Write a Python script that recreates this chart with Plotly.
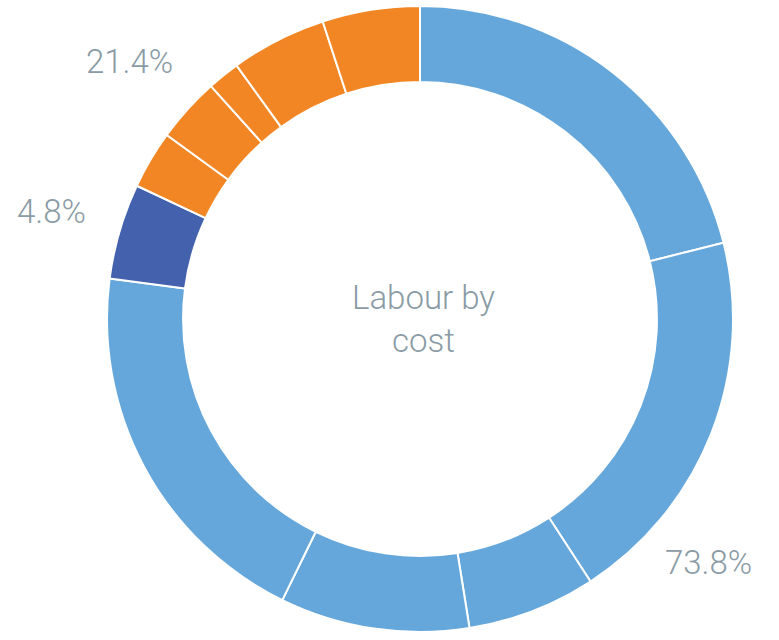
import plotly.graph_objects as go

# Slice shares in clockwise order starting at 12 o'clock
slice_names = [
    "Operatives", "Trades", "Supervisors", "Apprentices", "Labourers",
    "Management",
    "Plant hire", "Agency", "Overtime", "Travel", "Subsistence",
]
slice_values = [21.08, 19.75, 6.64, 9.78, 19.81, 4.94, 3.00, 3.36, 1.67, 4.94, 5.03]
slice_group = ["direct"] * 5 + ["management"] + ["other"] * 5

group_colors = {"direct": "#65A7DB", "management": "#4361AD", "other": "#F38624"}

# Group share labels
group_names = ["direct", "management", "other"]
group_shares = [73.8, 4.8, 21.4]

center_title = "Labour by<br>cost"
text_color = "#8A9BA6"
font_family = "Roboto"

W, H = 779, 640

fig = go.Figure(
    go.Pie(
        labels=slice_names,
        values=slice_values,
        sort=False,
        direction="clockwise",
        rotation=0,
        hole=0.757,
        textinfo="none",
        hoverinfo="label+percent",
        marker=dict(
            colors=[group_colors[g] for g in slice_group],
            line=dict(color="white", width=2),
        ),
        domain=dict(x=[107 / W, 733 / W], y=[8 / H, 634 / H]),
        showlegend=False,
    )
)

# Positions (paper coords) for each group's share label
label_pos = {
    "direct": (708 / W, 1 - 562 / H),
    "management": (51 / W, 1 - 211 / H),
    "other": (129 / W, 1 - 61 / H),
}

label_font = dict(family=font_family, size=33, color=text_color, weight=300)

annotations = [
    dict(
        text=center_title, x=423 / W, y=1 - 319 / H, xref="paper", yref="paper",
        showarrow=False, font=label_font,
        xanchor="center", yanchor="middle",
    )
]
for name, share in zip(group_names, group_shares):
    px, py = label_pos[name]
    annotations.append(
        dict(
            text=f"{share:.1f}%", x=px, y=py, xref="paper", yref="paper",
            showarrow=False, font=label_font,
            xanchor="center", yanchor="middle",
        )
    )

fig.update_layout(
    width=W, height=H,
    margin=dict(l=0, r=0, t=0, b=0),
    paper_bgcolor="white", plot_bgcolor="white",
    annotations=annotations,
)

fig.write_html("out.html")
